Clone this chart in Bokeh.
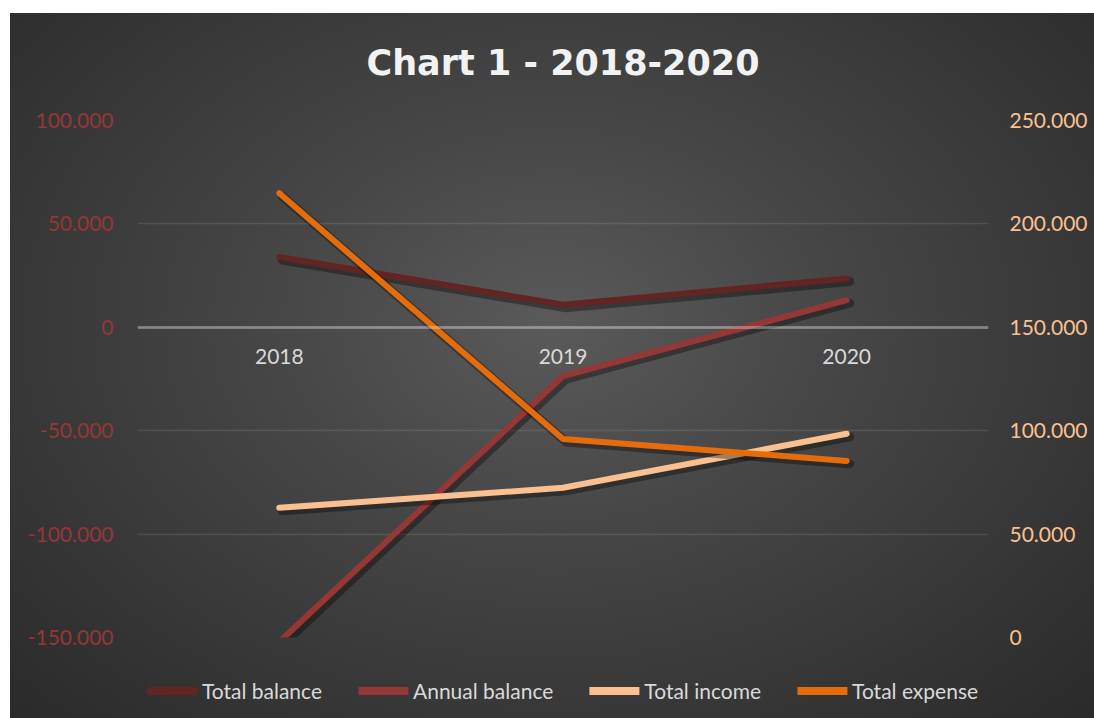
from bokeh.plotting import figure
from bokeh.models import Range1d, LinearAxis, FixedTicker, Legend, LegendItem
from bokeh.layouts import column
from bokeh.embed import file_html
from bokeh.resources import INLINE

# ---- data ----
years = ["2018", "2019", "2020"]
total_balance = [34000, 10900, 23600]
annual_balance = [-152100, -23600, 13100]
total_income = [62700, 72400, 98500]
total_expense = [214800, 96000, 85400]

left_ticks = [-150000, -100000, -50000, 0, 50000, 100000]
left_tick_labels = ["-150.000", "-100.000", "-50.000", "0", "50.000", "100.000"]
right_ticks = [0, 50000, 100000, 150000, 200000, 250000]
right_tick_labels = ["0", "50.000", "100.000", "150.000", "200.000", "250.000"]

series_names = ["Total balance", "Annual balance", "Total income", "Total expense"]
series_colors = ["#632523", "#953735", "#FAC090", "#E46C0A"]

# ---- layout ----
W = 1084
H1 = 662
H2 = 53
BL, BR, BT, BB = 127, 106, 116, 28
FW, FH = W - BL - BR, H1 - BT - BB

xs = list(range(len(years)))
x_lo, x_hi = -0.5, len(years) - 0.5
yl_lo, yl_hi = -150000, 100000
yr_lo, yr_hi = 0, 250000

p = figure(width=W, height=H1, output_backend="svg", toolbar_location=None,
           x_range=Range1d(x_lo, x_hi), y_range=Range1d(yl_lo, yl_hi),
           min_border_left=BL, min_border_right=BR, min_border_top=BT, min_border_bottom=BB,
           title="Chart 1 - 2018-2020")
p.extra_y_ranges = {"right": Range1d(yr_lo, yr_hi)}

p.background_fill_color = None
p.border_fill_color = None
p.outline_line_color = None

# title
p.title.text_font = "DejaVu Sans"
p.title.text_font_style = "bold"
p.title.text_font_size = "35px"
p.title.text_color = "#F2F2F2"
p.title.align = "center"
p.title.standoff = 75

# x axis at zero
xa = p.xaxis[0]
xa.fixed_location = 0
xa.ticker = FixedTicker(ticks=xs)
xa.major_label_overrides = {i: y for i, y in zip(xs, years)}
xa.axis_line_color = "white"
xa.axis_line_alpha = 0.3
xa.axis_line_width = 3
xa.major_tick_line_color = None
xa.minor_tick_line_color = None
xa.major_label_standoff = 16
xa.major_label_text_font = "Lato"
xa.major_label_text_font_size = "21px"
xa.major_label_text_color = "#D9D9D9"

# left axis
ya = p.yaxis[0]
ya.ticker = FixedTicker(ticks=left_ticks)
ya.major_label_overrides = {t: l for t, l in zip(left_ticks, left_tick_labels)}
ya.axis_line_color = None
ya.major_tick_line_color = None
ya.minor_tick_line_color = None
ya.major_label_standoff = 18
ya.major_label_text_font = "Lato"
ya.major_label_text_font_size = "21px"
ya.major_label_text_color = "#953735"

# right axis
ra = LinearAxis(y_range_name="right", ticker=FixedTicker(ticks=right_ticks),
                major_label_overrides={t: l for t, l in zip(right_ticks, right_tick_labels)})
ra.axis_line_color = None
ra.major_tick_line_color = None
ra.minor_tick_line_color = None
ra.major_label_standoff = 15
ra.major_label_text_font = "Lato"
ra.major_label_text_font_size = "21px"
ra.major_label_text_color = "#FAC090"
p.add_layout(ra, "right")

# grid
p.xgrid.visible = False
p.ygrid.ticker = FixedTicker(ticks=left_ticks)
p.ygrid.grid_line_color = "white"
p.ygrid.grid_line_alpha = 0.1
p.ygrid.grid_line_width = 1.5

# shadow offsets (pixels -> data units)
sh_px = 3
dx = sh_px * (x_hi - x_lo) / FW
dyl = sh_px * (yl_hi - yl_lo) / FH
dyr = sh_px * (yr_hi - yr_lo) / FH

series = [
    (total_balance, "default", dyl),
    (annual_balance, "default", dyl),
    (total_income, "right", dyr),
    (total_expense, "right", dyr),
]

for (vals, rng, dy), color in zip(series, series_colors):
    p.line([x + dx for x in xs], [v - dy for v in vals], y_range_name=rng,
           line_color="black", line_alpha=0.35, line_width=9, line_join="round", line_cap="round")
    p.line(xs, vals, y_range_name=rng, line_color=color, line_width=6,
           line_join="round", line_cap="round")

# ---- legend strip ----
lg = figure(width=W, height=H2, output_backend="svg", toolbar_location=None,
            x_range=Range1d(0, 1), y_range=Range1d(0, 1),
            x_axis_type=None, y_axis_type=None,
            min_border_left=BL, min_border_right=BR, min_border_top=0, min_border_bottom=3)
lg.background_fill_color = None
lg.border_fill_color = None
lg.outline_line_color = None
lg.xgrid.visible = False
lg.ygrid.visible = False

nan = float("nan")
items = []
for name, color in zip(series_names, series_colors):
    # legend-key renderer only (no visible data)
    r = lg.line(x=[nan, nan], y=[nan, nan], line_color=color, line_width=8, line_cap="round")
    items.append(LegendItem(label=name, renderers=[r]))

legend = Legend(items=items, location="center", orientation="horizontal",
                background_fill_alpha=0, border_line_color=None,
                padding=0, margin=0, spacing=36, glyph_width=50, glyph_height=20,
                label_standoff=5, label_height=20,
                label_text_font="Lato", label_text_font_size="21px", label_text_color="#D9D9D9")
lg.add_layout(legend)

layout = column(p, lg, spacing=0)
layout.margin = (3, 0, 0, 10)
layout.styles = {"background": "linear-gradient(#ffffff 0px, #ffffff 10px, transparent 10px), "
                               "radial-gradient(ellipse at 50% 45%, #5a5a5a 0%, #474747 35%, #2a2a2a 100%)"}

open("out.html", "w").write(file_html(layout, INLINE))
